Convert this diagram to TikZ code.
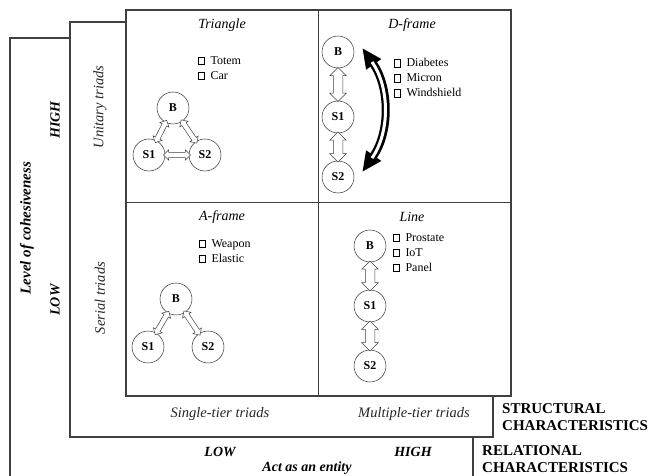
\documentclass[tikz,border=0pt]{standalone}
\usepackage{fontspec}
\setmainfont{Liberation Serif}
\usetikzlibrary{shapes.arrows,arrows.meta,calc}
\newcommand\sqbx{{\setlength\fboxsep{0pt}\setlength\fboxrule{0.4pt}\fbox{\rule{0pt}{7pt}\rule{5.5pt}{0pt}}}\hspace{6pt}}
\begin{document}
\begin{tikzpicture}[x=1pt,y=-1pt,
  frame/.style={draw=black!75, line width=1.1pt, fill=white},
  ent/.style={circle, draw=black!80, line width=0.5pt, fill=white, minimum size=32pt, inner sep=0pt, font=\fontsize{12}{14}\selectfont\bfseries},
  blk/.style={double arrow, draw=black!75, line width=0.5pt, fill=white, inner xsep=0pt, inner ysep=2.3pt, double arrow head extend=2.5pt, double arrow head indent=0pt, sloped, anchor=center},
  blkbig/.style={blk, inner ysep=4.5pt, double arrow head extend=3.5pt},
  title/.style={font=\fontsize{14}{16}\selectfont\itshape},
  items/.style={anchor=north west, align=left, inner sep=0pt, font=\fontsize{12}{15}\selectfont},
  axis/.style={font=\fontsize{14.5}{16}\selectfont\itshape, text=black!85},
  bi/.style={font=\fontsize{14}{16}\selectfont\bfseries\itshape},
  caps/.style={font=\fontsize{15}{17}\selectfont\bfseries, align=left, anchor=west, inner sep=0pt}
]
\useasboundingbox (0,0) rectangle (649,476);
\clip (0,0) rectangle (649,476);
\draw[frame] (10,38) rectangle (473,490);
\draw[frame] (70,22) rectangle (493,437);
\draw[frame] (126,10) rectangle (511,396);
\draw[line width=0.9pt, draw=black!75] (318,10) -- (318,396) (126,202) -- (511,202);

% Triangle
\node[title] (tT) at (222,25) {Triangle};
\node[items] (tL) at (198,56) {\sqbx Totem\\\sqbx Car};
\node[ent] (tB) at (173,108) {B};
\node[ent] (tS1) at (149,155) {S1};
\node[ent] (tS2) at (205,155) {S2};
\path (tB) -- node[blk, minimum height=25pt]{} (tS1);
\path (tB) -- node[blk, minimum height=28pt]{} (tS2);
\path (tS1) -- node[blk, minimum height=27pt]{} (tS2);

% D-frame
\node[title] (dT) at (412,25) {D-frame};
\node[items] (dL) at (394,58) {\sqbx Diabetes\\\sqbx Micron\\\sqbx Windshield};
\node[ent] (dB) at (338,52) {B};
\node[ent] (dS1) at (338,117) {S1};
\node[ent] (dS2) at (338,177) {S2};
\path (dB) -- node[blkbig, minimum height=34pt]{} (dS1);
\path (dS1) -- node[blkbig, minimum height=30pt]{} (dS2);
\coordinate (dTop) at ([shift={(8pt,4pt)}]dB.east);
\coordinate (dBot) at ([shift={(8pt,5pt)}]dS2.east);
\draw[line width=8pt, {Triangle[length=20pt,width=17pt]}-{Triangle[length=20pt,width=17pt]}] (dTop) to[bend left=35] (dBot);
\draw[white, line width=3pt, shorten <=17pt, shorten >=17pt] (dTop) to[bend left=35] (dBot);

% A-frame
\node[title] (aT) at (222,217) {A-frame};
\node[items] (aL) at (199,239) {\sqbx Weapon\\\sqbx Elastic};
\node[ent] (aB) at (176,299) {B};
\node[ent] (aS1) at (148,347) {S1};
\node[ent] (aS2) at (208,347) {S2};
\path (aB) -- node[blk, minimum height=27pt]{} (aS1);
\path (aB) -- node[blk, minimum height=29pt]{} (aS2);

% Line
\node[title] (lT) at (412,217) {Line};
\node[items] (lL) at (393,233) {\sqbx Prostate\\\sqbx IoT\\\sqbx Panel};
\node[ent] (lB) at (370,246) {B};
\node[ent] (lS1) at (370,306) {S1};
\node[ent] (lS2) at (370,366) {S2};
\path (lB) -- node[blkbig, minimum height=30pt]{} (lS1);
\path (lS1) -- node[blkbig, minimum height=30pt]{} (lS2);

% axes
\node[axis, rotate=90] (ut) at (100,107) {Unitary triads};
\node[axis, rotate=90] (st) at (100,298) {Serial triads};
\node[bi, rotate=90] (vh) at (55,120) {HIGH};
\node[bi, rotate=90] (vl) at (55,300) {LOW};
\node[bi, rotate=90, font=\fontsize{15}{17}\selectfont\bfseries\itshape] (lc) at (27,228) {Level of cohesiveness};
\node[axis] (sg) at (220,414) {Single-tier triads};
\node[axis] (mt) at (414,414) {Multiple-tier triads};
\node[caps] (sc) at (502,417) {STRUCTURAL\\CHARACTERISTICS};
\node[caps] (rc) at (482,459.5) {RELATIONAL\\CHARACTERISTICS};
\node[bi] (hl) at (220,452) {LOW};
\node[bi] (hh) at (413,452) {HIGH};
\node[bi] (ae) at (307,468) {Act as an entity};
\end{tikzpicture}
\end{document}
